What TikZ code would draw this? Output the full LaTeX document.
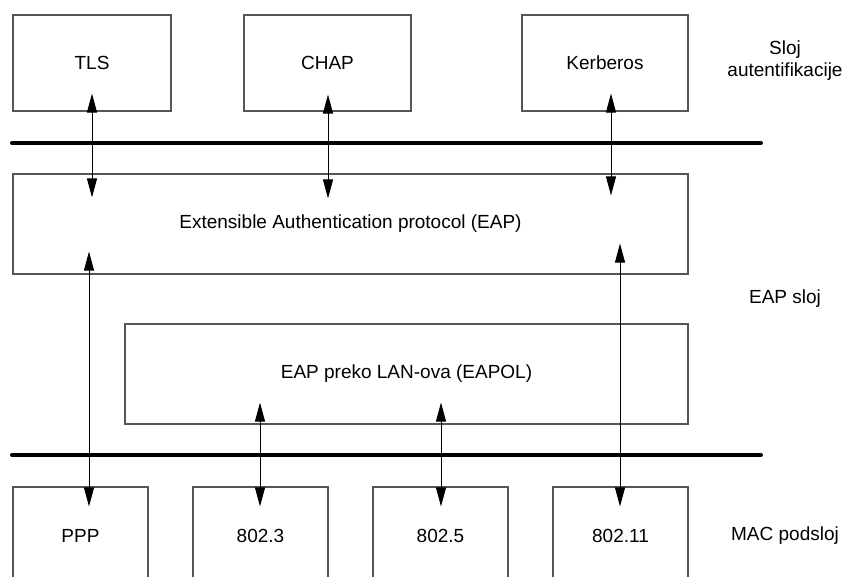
\documentclass[tikz,border=0pt]{standalone}
\usepackage{fontspec}
\setmainfont{Liberation Sans}
\usetikzlibrary{arrows.meta}
\newcommand\diagfont{\fontsize{19}{22}\selectfont}
\definecolor{boxgray}{RGB}{85,85,85}
\begin{document}
\begin{tikzpicture}[x=1pt,y=-1pt,
  box/.style={draw=boxgray, line width=1.1pt, inner sep=0pt, font=\diagfont},
  topbox/.style={box, minimum height=96pt},
  macbox/.style={box, minimum width=135pt, minimum height=98pt},
  bus/.style={line width=4pt, line cap=round},
  link/.style={line width=1pt,
    {Triangle[width=10pt,length=19pt]}-{Triangle[width=10pt,length=19pt]}},
  layer/.style={font=\diagfont, align=center}]
\useasboundingbox (0,0) rectangle (843,576);

% authentication methods
\node[topbox, minimum width=158pt] (tls)  at (92,63)    {TLS};
\node[topbox, minimum width=167pt] (chap) at (327.5,63) {CHAP};
\node[topbox, minimum width=166pt] (krb)  at (605,63)   {Kerberos};

% EAP layer
\node[box, minimum width=675pt, minimum height=100pt] (eap) at (350.5,224)
  {Extensible Authentication protocol (EAP)};
\node[box, minimum width=563pt, minimum height=100pt] (eapol) at (406.5,374)
  {EAP preko LAN-ova (EAPOL)};

% MAC sublayer
\node[macbox] (ppp)  at (80.5,536)  {PPP};
\node[macbox] (e3)   at (260.5,536) {802.3};
\node[macbox] (e5)   at (440.5,536) {802.5};
\node[macbox] (e11)  at (620.5,536) {802.11};

% layer separators
\coordinate (busA-w) at (12,143);
\coordinate (busA-e) at (761,143);
\coordinate (busB-w) at (12,455);
\coordinate (busB-e) at (761,455);
\draw[bus] (busA-w) -- (busA-e);
\draw[bus] (busB-w) -- (busB-e);

% layer names
\node[layer] (lauth) at (785,61)  {Sloj\\autentifikacije};
\node[layer] (leap)  at (785,299) {EAP sloj};
\node[layer] (lmac)  at (785,536) {MAC podsloj};

% method <-> EAP
\draw[link] ([yshift=18pt]tls.south) -- ([yshift=-24pt]tls.south |- eap.north);
\draw[link] ([xshift=0.5pt,yshift=17pt]chap.south) -- ([xshift=0.5pt,yshift=-25pt]chap.south |- eap.north);
\draw[link] ([xshift=6pt,yshift=18pt]krb.south) -- ([xshift=6pt,yshift=-22pt]krb.south |- eap.north);

% EAP / EAPOL <-> MAC
\draw[link] ([xshift=8.5pt,yshift=23pt]ppp.north |- eap.south) -- ([xshift=8.5pt,yshift=-20pt]ppp.north);
\draw[link] ([xshift=-0.5pt,yshift=22pt]e3.north |- eapol.south) -- ([xshift=-0.5pt,yshift=-20pt]e3.north);
\draw[link] ([xshift=0.5pt,yshift=22pt]e5.north |- eapol.south) -- ([xshift=0.5pt,yshift=-20pt]e5.north);
\draw[link] ([xshift=-0.5pt,yshift=31pt]e11.north |- eap.south) -- ([xshift=-0.5pt,yshift=-20pt]e11.north);
\end{tikzpicture}
\end{document}
